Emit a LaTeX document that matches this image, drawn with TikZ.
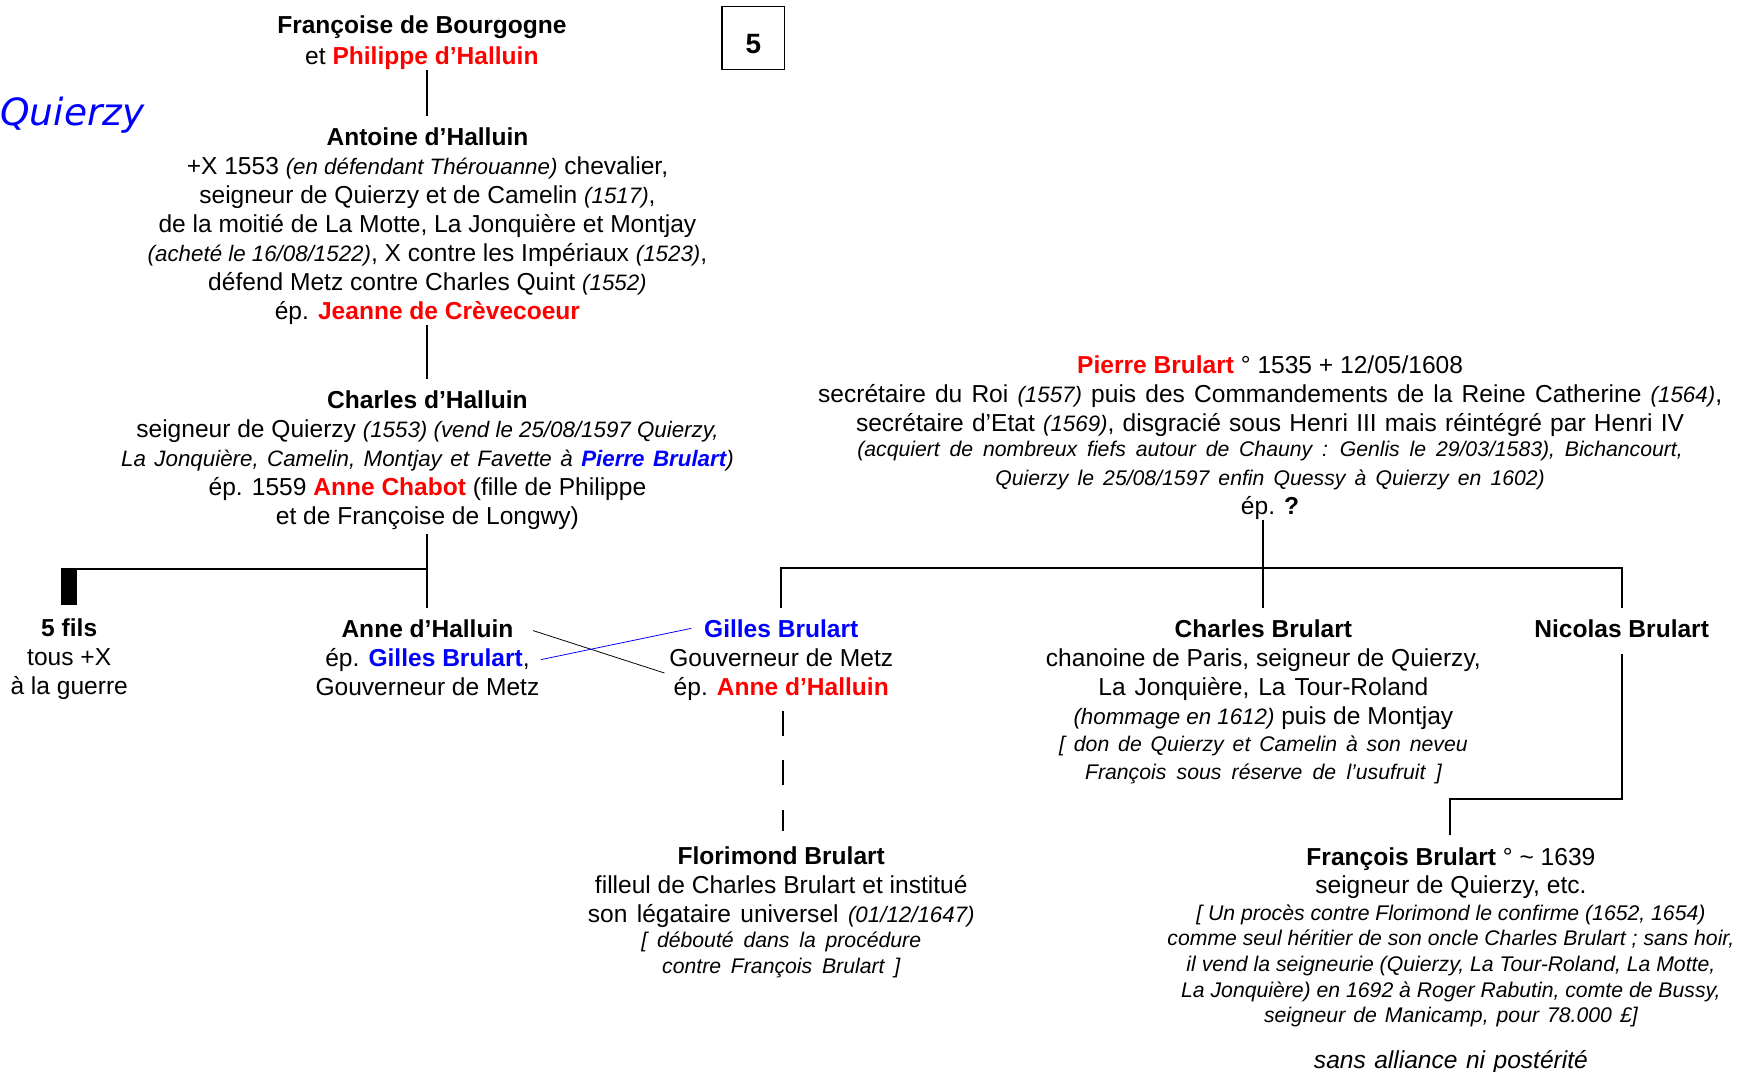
\documentclass[tikz,border=0pt]{standalone}
\usepackage{fontspec}
\setmainfont{Liberation Sans}
\newfontfamily\qfont{DejaVu Sans}
\usetikzlibrary{calc}

\begin{document}
\begin{tikzpicture}[x=0.5pt, y=-0.5pt, line join=miter,
	every node/.style={inner sep=0pt, align=center, font=\fontsize{11}{13}\selectfont},
	pers/.style={anchor=north},
	lien/.style={line width=0.9pt},
	croix/.style={line width=0.35pt}]
	\def\rg#1{\textcolor{red}{\textbf{#1}}} \def\bl#1{\textcolor{blue}{\textbf{#1}}} % noms en couleur
	\def\ita#1{{\fontsize{10}{12}\selectfont\itshape #1}} \def\itb#1{{\fontsize{9.5}{11.5}\selectfont\itshape #1}} % italiques
	\def\esp#1#2{{\spaceskip=#1\relax #2}} % espaces elargis
	\useasboundingbox (0,0) rectangle (1568,960);
	\node[anchor=base west, font=\qfont\fontsize{16.8}{20}\selectfont\itshape, text=blue] (titre) at (0,112) {Quierzy};
	\node[draw, line width=0.6pt, minimum size=28pt, text height=14pt, text depth=0pt, font=\fontsize{12.5}{14}\selectfont\bfseries] (num) at (675,34) {5};
	% les d'Halluin
	\node[pers] (fr) at (378,14) {\textbf{Françoise de Bourgogne}\\[0.5pt] et \rg{Philippe d’Halluin}};
	\node[pers] (ant) at (383,114) {\textbf{Antoine d’Halluin}\\
		+X 1553 \ita{(en défendant Thérouanne)} chevalier,\\
		seigneur de Quierzy et de Camelin \ita{(1517)},\\
		de la moitié de La Motte, La Jonquière et Montjay\\
		\ita{(acheté le 16/08/1522)}, X contre les Impériaux \ita{(1523)},\\
		défend Metz contre Charles Quint \ita{(1552)}\\
		ép. \rg{Jeanne de Crèvecoeur}};
	\node[pers] (chH) at (383,350) {\textbf{Charles d’Halluin}\\
		seigneur de Quierzy \ita{(1553) (vend le 25/08/1597 Quierzy,}\\
		\ita{\esp{3.8pt}{La Jonquière, Camelin, Montjay et Favette à \textcolor{blue}{\textbf{Pierre Brulart}}})}\\
		ép. 1559 \rg{Anne Chabot} (fille de Philippe\\
		et de Françoise de Longwy)};
	\node[pers] (fils) at (62,554) {\textbf{5 fils}\\ tous +X\\ à la guerre};
	\node[pers] (anneH) at (383,555) {\textbf{Anne d’Halluin}\\ ép. \bl{Gilles Brulart},\\ Gouverneur de Metz};
	% les Brulart
	\node[pers] (pier) at (1138,318) {\rg{Pierre Brulart} ° 1535 + 12/05/1608\\
		\esp{4.1pt}{secrétaire du Roi \ita{(1557)} puis des Commandements de la Reine Catherine \ita{(1564)},}\\
		\esp{3.7pt}{secrétaire d’Etat \ita{(1569)}, disgracié sous Henri III mais réintégré par Henri IV}\\[-1.5pt]
		\itb{\esp{4.4pt}{(acquiert de nombreux fiefs autour de Chauny : Genlis le 29/03/1583), Bichancourt,}}\\
		\itb{\esp{4.1pt}{Quierzy le 25/08/1597 enfin Quessy à Quierzy en 1602)}}\\
		ép. \textbf{?}};
	\node[pers] (gil) at (700,555) {\bl{Gilles Brulart}\\ Gouverneur de Metz\\ ép. \rg{Anne d’Halluin}};
	\node[pers] (chB) at (1132,555) {\textbf{Charles Brulart}\\
		chanoine de Paris, seigneur de Quierzy,\\
		\esp{4pt}{La Jonquière, La Tour-Roland}\\
		\ita{(hommage en 1612)} puis de Montjay\\[-1pt]
		\itb{\esp{4pt}{[ don de Quierzy et Camelin à son neveu}}\\[-0.5pt]
		\itb{\esp{4.6pt}{François sous réserve de l’usufruit ]}}};
	\node[pers] (nic) at (1453,555) {\textbf{Nicolas Brulart}};
	\node[pers] (flo) at (700,758) {\textbf{Florimond Brulart}\\
		filleul de Charles Brulart et institué\\
		\esp{4.2pt}{son légataire universel \ita{(01/12/1647)}}\\[-1.5pt]
		\itb{\esp{4.4pt}{[ débouté dans la procédure}}\\[-1.5pt]
		\itb{\esp{4.4pt}{contre François Brulart ]}}};
	\node[pers] (fra) at (1300,759) {\textbf{François Brulart} ° \textasciitilde{} 1639\\[-0.5pt]
		seigneur de Quierzy, etc.\\[-1pt]
		\itb{[ Un procès contre Florimond le confirme (1652, 1654)}\\[-1.5pt]
		\itb{comme seul héritier de son oncle Charles Brulart ; sans hoir,}\\[-1.5pt]
		\itb{il vend la seigneurie (Quierzy, La Tour-Roland, La Motte,}\\[-1.5pt]
		\itb{La Jonquière) en 1692 à Roger Rabutin, comte de Bussy,}\\[-1.5pt]
		\itb{\esp{3.6pt}{seigneur de Manicamp, pour 78.000 £]}}\\[7.5pt]
		{\itshape\esp{3.8pt}{sans alliance ni postérité}}};
	% filiations
	\coordinate (busG) at (0,510); \coordinate (busD) at (0,509); \coordinate (coude) at (0,716);
	\draw[lien] (ant.north |- fr.south) -- ($(ant.north)+(0,-10)$);
	\draw[lien] (ant.south) -- ($(chH.north)+(0,-10)$);
	\draw[lien] ($(anneH.north |- chH.south)+(0,3)$) -- ($(anneH.north)+(0,-10)$);
	\draw[lien] (anneH.north |- busG) -- (fils.north |- busG);
	\draw[line width=7pt] ($(fils.north |- busG)+(0,-1)$) -- ($(fils.north)+(0,-12)$);
	\draw[lien] (chB.north |- pier.south) -- ($(chB.north)+(0,-10)$);
	\draw[lien] ($(gil.north)+(0,-10)$) -- (gil.north |- busD) -- (nic.north |- busD) -- ($(nic.north)+(0,-10)$);
	\draw[lien] ($(nic.south)+(0,14)$) -- (nic.south |- coude) -| ($(fra.north)+(-1,-11)$);
	\draw[lien, dash pattern=on 11pt off 11pt] ($(gil.south)+(2,9)$) -- ($(flo.north)+(2,-13)$);
	% mariage croisé
	\draw[croix] ($(anneH.north east)+(-6,10)$) -- ($(gil.north west)+(-4,48)$);
	\draw[croix, blue] ($(anneH.north east)+(1,36)$) -- ($(gil.north west)+(20,8)$);
\end{tikzpicture}
\end{document}
